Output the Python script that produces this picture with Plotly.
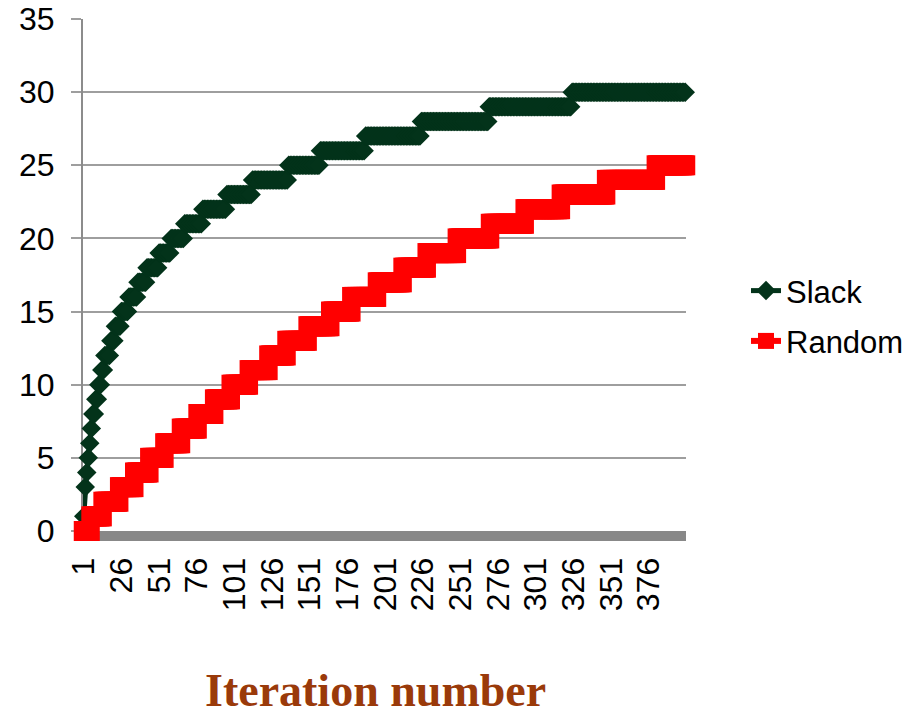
import plotly.graph_objects as go

# ---- data ----
n_iter = 400
iterations = list(range(1, n_iter + 1))

# step functions: level value and the iteration at which that level is first reached
slack_levels = [1, 3, 4, 5, 6, 7, 8, 9, 10, 11, 12, 13, 14, 15, 16, 17, 18, 19, 20,
                21, 22, 23, 24, 25, 26, 27, 28, 29, 30]
slack_starts = [1, 2, 3, 4, 5, 6, 7, 9, 11, 13, 15, 19, 22, 26, 31, 37, 43, 51, 59,
                68, 80, 96, 113, 137, 158, 188, 225, 270, 325]

random_levels = [0, 1, 2, 3, 4, 5, 6, 7, 8, 9, 10, 11, 12, 13, 14, 15, 16, 17, 18,
                 19, 20, 21, 22, 23, 24, 25]
random_starts = [1, 6, 14, 25, 35, 45, 55, 66, 77, 88, 99, 111, 124, 136, 150, 165,
                 179, 196, 213, 229, 249, 271, 294, 318, 348, 381]

x_tick_vals = [1, 26, 51, 76, 101, 126, 151, 176, 201, 226, 251, 276, 301, 326, 351, 376]
y_tick_vals = [0, 5, 10, 15, 20, 25, 30, 35]


def expand(levels, starts, n):
    vals = []
    for i, (lv, st) in enumerate(zip(levels, starts)):
        end = starts[i + 1] if i + 1 < len(starts) else n + 1
        vals.extend([lv] * (end - st))
    return vals


slack = expand(slack_levels, slack_starts, n_iter)
random_vals = expand(random_levels, random_starts, n_iter)

GREEN = "#03331a"
RED = "#ff0000"
FONT = "Liberation Sans, Arial, sans-serif"

fig = go.Figure()
fig.add_trace(go.Scatter(
    x=iterations, y=slack, name="Slack", mode="lines+markers",
    line=dict(color=GREEN, width=5),
    marker=dict(symbol="diamond", size=15, color=GREEN, line=dict(width=0)),
    cliponaxis=False, legendgroup="a",
))
fig.add_trace(go.Scatter(
    x=iterations, y=random_vals, name="Random", mode="lines+markers",
    line=dict(color=RED, width=6),
    marker=dict(symbol="square", size=20, color=RED, line=dict(width=0)),
    cliponaxis=False, legendgroup="b",
))

fig.update_layout(
    width=911, height=718,
    margin=dict(l=83, r=225, t=19, b=187, pad=0, autoexpand=False),
    paper_bgcolor="white", plot_bgcolor="white",
    font=dict(family=FONT, size=32, color="black"),
    showlegend=True,
    legend=dict(
        x=1.0995, xanchor="left", y=0.42, yanchor="middle",
        font=dict(family=FONT, size=31, color="black"),
        traceorder="grouped", tracegroupgap=7,
        bgcolor="rgba(0,0,0,0)",
    ),
    xaxis=dict(
        range=[0.5, n_iter + 0.5],
        tickmode="array", tickvals=x_tick_vals,
        ticktext=[str(v) for v in x_tick_vals],
        tickangle=-90,
        showgrid=False, zeroline=False,
        showline=True, linecolor="#888888", linewidth=10,
        ticks="", layer="below traces",
        ticklabelstandoff=4,
        automargin=False,
        tickfont=dict(family=FONT, size=32, color="black"),
    ),
    yaxis=dict(
        range=[0, 35],
        tickmode="array", tickvals=y_tick_vals,
        showgrid=True, gridcolor="#9e9e9e", gridwidth=2,
        zeroline=False,
        showline=True, linecolor="#8c8c8c", linewidth=2,
        ticks="outside", ticklen=10, tickwidth=2, tickcolor="#9e9e9e",
        layer="below traces",
        ticklabelstandoff=10,
        automargin=False,
        tickfont=dict(family=FONT, size=32, color="black"),
    ),
    annotations=[dict(
        text="<b>Iteration number</b>", showarrow=False,
        xref="paper", yref="paper", x=(375 - 83) / 603, y=(531 - 718) / 512,
        xanchor="center", yanchor="bottom",
        font=dict(family="Liberation Serif, Times New Roman, serif", size=46, color="#9a3a0a"),
    )],
)

fig.write_html("out.html")
